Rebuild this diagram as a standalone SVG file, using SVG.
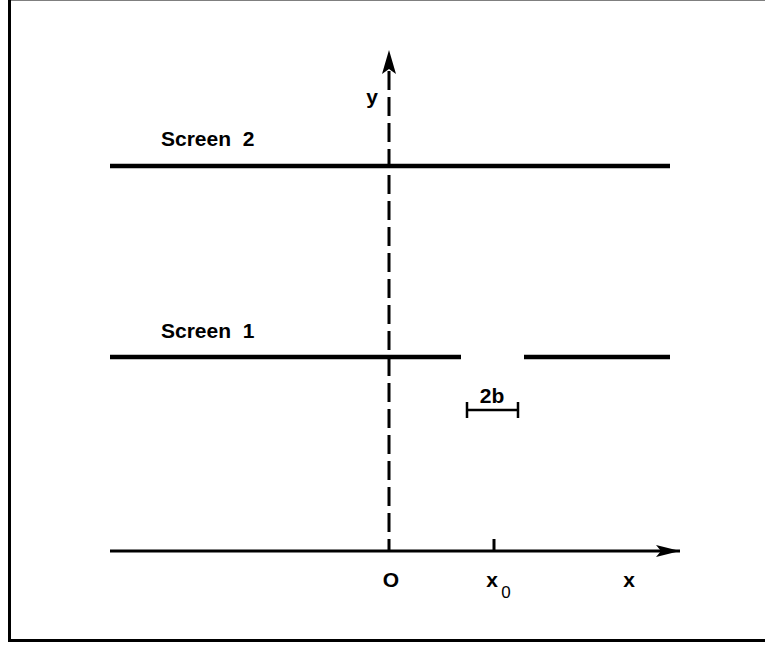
<svg xmlns="http://www.w3.org/2000/svg" width="765" height="645" viewBox="0 0 765 645">
<defs>
<style>
.t{font-family:"Liberation Sans",Arial,sans-serif;font-weight:bold;font-size:21px;fill:#000}
.scr{stroke:#000;stroke-width:4.5;fill:none}
</style>
<marker id="ahx" viewBox="0 0 24 12" refX="24" refY="6" markerWidth="24" markerHeight="12" markerUnits="userSpaceOnUse" orient="auto"><path d="M0,0 L24,6 L0,12 L5,6 Z" fill="#000"/></marker>
</defs>
<rect width="765" height="645" fill="#fff"/>
<rect x="9.5" y="-1" width="770" height="641.5" fill="none" stroke="#000" stroke-width="3"/>
<g id="screen2">
<line class="scr" x1="110" y1="166" x2="670" y2="166"/>
<text class="t" x="161" y="146" xml:space="preserve">Screen  2</text>
</g>
<g id="screen1">
<line class="scr" x1="110" y1="357" x2="461" y2="357"/>
<line class="scr" x1="524" y1="357" x2="670" y2="357"/>
<text class="t" x="161" y="338" xml:space="preserve">Screen  1</text>
</g>
<g id="slit">
<path d="M467,410 H518 M467,402 V418 M518,402 V418" stroke="#000" stroke-width="2.5" fill="none"/>
<text class="t" x="492" y="403" text-anchor="middle">2b</text>
</g>
<g id="connectors">
<line x1="389" y1="71" x2="389" y2="551" stroke="#000" stroke-width="3" stroke-dasharray="19,7"/>
<path d="M389,50 L396,74 L389,69 L382,74 Z" fill="#000"/>
<line x1="110" y1="551" x2="680" y2="551" stroke="#000" stroke-width="3" marker-end="url(#ahx)"/>
<line x1="494" y1="539" x2="494" y2="551" stroke="#000" stroke-width="3"/>
</g>
<g id="labels">
<text class="t" x="372" y="104" text-anchor="middle">y</text>
<text class="t" x="391" y="587" text-anchor="middle">O</text>
<text class="t" x="492" y="587" text-anchor="middle">x</text>
<text x="506" y="598" text-anchor="middle" style="font-family:'Liberation Sans',Arial,sans-serif;font-size:17px">0</text>
<text class="t" x="629" y="587" text-anchor="middle">x</text>
</g>
</svg>
